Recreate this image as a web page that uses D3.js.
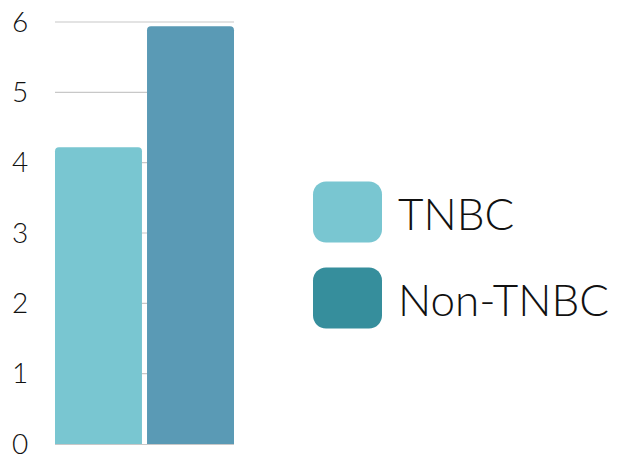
<!DOCTYPE html>
<html>
<head>
<meta charset="utf-8">
<script src="https://cdn.jsdelivr.net/npm/d3@7"></script>
<style>
  html, body { margin: 0; padding: 0; background: #fff; }
  svg { display: block; }
  text { font-family: "Lato", "Open Sans", sans-serif; font-weight: 300; fill: #111; }
</style>
</head>
<body>
<svg id="chart" width="617" height="455"></svg>
<script>
// Data
const categories = ["TNBC", "Non-TNBC"];
const values = [4.22, 5.94];
const barColors = ["#79C6D1", "#5A9AB5"];
const legendColors = ["#79C6D1", "#368E9C"];
const yTicks = [0, 1, 2, 3, 4, 5, 6];

const svg = d3.select("#chart");
const plot = { left: 55, right: 234, top: 22, bottom: 444 };

const x = d3.scaleBand()
  .domain(categories)
  .range([plot.left, plot.right])
  .paddingInner(0.055)
  .paddingOuter(0);

const y = d3.scaleLinear()
  .domain([0, 6])
  .range([plot.bottom, plot.top]);

// Gridlines
svg.append("g")
  .selectAll("line")
  .data(yTicks.filter(d => d > 0))
  .join("line")
  .attr("x1", plot.left)
  .attr("x2", plot.right)
  .attr("y1", d => y(d))
  .attr("y2", d => y(d))
  .attr("stroke", "#c8c8c8")
  .attr("stroke-width", 1.2);

// Bars with rounded tops
const r = 4;
svg.append("g")
  .selectAll("path")
  .data(categories.map((c, i) => ({ c, v: values[i], col: barColors[i] })))
  .join("path")
  .attr("fill", d => d.col)
  .attr("d", d => {
    const x0 = x(d.c), x1 = x0 + x.bandwidth();
    const yt = y(d.v), yb = y(0);
    return `M${x0},${yb}V${yt + r}Q${x0},${yt} ${x0 + r},${yt}H${x1 - r}Q${x1},${yt} ${x1},${yt + r}V${yb}Z`;
  });

// Baseline
svg.append("line")
  .attr("x1", plot.left).attr("x2", plot.right)
  .attr("y1", y(0) + 0.5).attr("y2", y(0) + 0.5)
  .attr("stroke", "#c8c8c8")
  .attr("stroke-width", 1.2);

// Y tick labels
svg.append("g")
  .selectAll("text")
  .data(yTicks)
  .join("text")
  .attr("x", 20)
  .attr("y", d => y(d))
  .attr("dy", "0.34em")
  .attr("text-anchor", "middle")
  .attr("font-size", 28)
  .text(d => d);

// Legend
const legend = svg.append("g");
const legendY = d3.scalePoint().domain(categories).range([212, 298]);
legend.selectAll("rect")
  .data(categories)
  .join("rect")
  .attr("x", 313)
  .attr("y", d => legendY(d) - 30.5)
  .attr("width", 69)
  .attr("height", 61)
  .attr("rx", 13)
  .attr("fill", (d, i) => legendColors[i]);
legend.selectAll("text")
  .data(categories)
  .join("text")
  .attr("x", 398)
  .attr("y", d => legendY(d) + 18)
  .attr("font-size", 44)
  .text(d => d);
</script>
</body>
</html>
